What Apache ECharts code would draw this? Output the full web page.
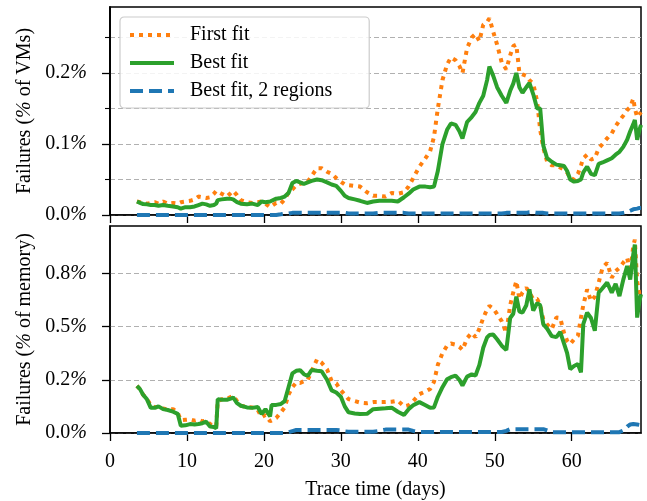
<!DOCTYPE html>
<html>
<head>
<meta charset="utf-8">
<script src="https://cdn.jsdelivr.net/npm/echarts@6/dist/echarts.min.js"></script>
<style>
  html, body { margin: 0; padding: 0; background: #fff; }
  #chart { width: 647px; height: 501px; }
</style>
</head>
<body>
<div id="chart"></div>
<script>
// trace time (days)
const days = [
  3.5, 3.9, 4.3, 4.8, 5.3, 5.8, 6.3, 6.9, 7.5, 8.2,
  8.8, 9.2, 9.8, 10.4, 11.0, 11.5, 12.0, 12.5, 13.0, 13.5,
  13.8, 14.0, 14.5, 15.2, 15.6, 16.0, 16.5, 17.0, 17.8, 18.5,
  19.2, 19.7, 20.2, 20.8, 21.0, 21.6, 22.2, 22.7, 23.2, 23.7,
  24.2, 24.7, 25.2, 25.7, 26.2, 26.9, 27.5, 28.2, 28.8, 29.4,
  30.0, 30.5, 31.0, 31.8, 32.5, 33.4, 34.2, 35.0, 35.8, 36.6,
  37.4, 38.2, 38.8, 39.4, 40.2, 41.0, 41.6, 42.1, 42.6, 43.2,
  43.8, 44.3, 44.9, 45.4, 45.8, 46.4, 47.0, 47.5, 48.0, 48.5,
  49.0, 49.3, 49.8, 50.3, 50.9, 51.5, 52.0, 52.4, 52.8, 53.2,
  53.6, 54.1, 54.5, 55.0, 55.5, 55.9, 56.3, 56.8, 57.4, 58.0,
  58.5, 59.0, 59.4, 59.8, 60.3, 60.8, 61.2, 61.5, 62.0, 62.5,
  63.0, 63.5, 64.0, 64.6, 65.2, 65.7, 66.2, 66.7, 67.2, 67.6,
  68.0, 68.2, 68.5, 68.8, 69.0
];

// failures, % of VMs
const firstFitVms = [
  .019, .018, .017, .016, .017, .018, .016, .019, .016, .017,
  .016, .018, .019, .020, .022, .026, .025, .024, .025, .030,
  .034, .033, .030, .026, .030, .034, .028, .021, .018, .017,
  .018, .019, .016, .011, .012, .017, .016, .022, .032, .036,
  .042, .044, .045, .047, .055, .066, .066, .061, .058, .052,
  .047, .043, .042, .041, .040, .032, .027, .027, .026, .031,
  .030, .032, .040, .052, .068, .080, .090, .110, .150, .190,
  .212, .222, .218, .210, .200, .235, .250, .255, .245, .268,
  .272, .277, .258, .240, .215, .205, .225, .238, .240, .200,
  .198, .196, .190, .185, .160, .120, .095, .075, .070, .070,
  .067, .064, .060, .052, .050, .058, .070, .080, .085, .078,
  .080, .094, .100, .108, .115, .125, .133, .140, .148, .152,
  .164, .150, .138, .142, .145
];
const bestFitVms = [
  .019, .017, .0155, .015, .014, .014, .013, .014, .013, .012,
  .011, .009, .011, .011, .012, .014, .016, .015, .013, .014,
  .016, .021, .022, .023, .023, .022, .018, .016, .015, .016,
  .014, .019, .018, .019, .020, .023, .024, .026, .031, .045,
  .048, .046, .044, .046, .048, .050, .049, .046, .043, .041,
  .034, .027, .024, .022, .020, .017, .019, .020, .020, .020,
  .019, .025, .030, .036, .040, .040, .039, .040, .062, .100,
  .120, .129, .127, .118, .108, .131, .138, .145, .158, .168,
  .190, .209, .196, .180, .168, .158, .175, .185, .200, .180,
  .172, .180, .186, .170, .150, .150, .098, .080, .075, .071,
  .070, .069, .062, .050, .047, .048, .050, .060, .068, .058,
  .056, .072, .074, .077, .080, .085, .089, .096, .106, .118,
  .128, .134, .106, .120, .127
];
const bestFit2Vms = [
  0, 0, 0, 0, 0, 0, 0, 0, 0, 0,
  0, 0, 0, 0, 0, 0, 0, 0, 0, 0,
  0, 0, 0, 0, 0, 0, 0, 0, 0, 0,
  0, 0, 0, 0, 0, 0, .001, .002, .002, .003,
  .003, .003, .003, .003, .003, .003, .003, .003, .003, .003,
  .003, .003, .002, .002, .002, .002, .002, .003, .003, .003,
  .003, .003, .002, .002, .002, .002, .002, .002, .002, .002,
  .002, .002, .002, .002, .002, .002, .002, .002, .002, .002,
  .002, .002, .002, .002, .002, .003, .003, .003, .003, .003,
  .003, .003, .004, .004, .003, .003, .003, .002, .002, .002,
  .002, .002, .002, .002, .002, .002, .002, .002, .002, .002,
  .002, .002, .002, .002, .002, .002, .002, .003, .004, .006,
  .008, .009, .009, .010, .010
];

// failures, % of memory
const firstFitMem = [
  .221, .206, .180, .160, .130, .122, .120, .115, .110, .112,
  .095, .060, .062, .064, .058, .062, .055, .058, .042, .035,
  .030, .150, .158, .160, .168, .174, .150, .128, .122, .120,
  .108, .075, .085, .055, .050, .070, .097, .120, .180, .215,
  .237, .235, .244, .250, .290, .346, .330, .299, .244, .233,
  .200, .180, .159, .150, .143, .140, .145, .145, .145, .147,
  .152, .125, .130, .150, .182, .195, .207, .240, .320, .375,
  .410, .420, .415, .405, .390, .445, .470, .450, .490, .540,
  .581, .597, .585, .558, .525, .470, .600, .660, .713, .630,
  .660, .682, .660, .628, .630, .600, .534, .510, .488, .542,
  .540, .470, .433, .417, .440, .456, .542, .600, .674, .620,
  .640, .706, .776, .799, .729, .760, .776, .800, .822, .752,
  .880, .908, .713, .650, .636
];
const bestFitMem = [
  .221, .206, .180, .158, .118, .118, .125, .112, .108, .100,
  .090, .034, .036, .042, .040, .042, .046, .053, .030, .028,
  .022, .159, .156, .156, .160, .167, .140, .128, .120, .118,
  .122, .089, .112, .078, .131, .132, .136, .150, .215, .280,
  .292, .295, .276, .268, .296, .292, .290, .250, .200, .190,
  .170, .125, .097, .092, .089, .090, .112, .114, .116, .119,
  .100, .085, .112, .130, .145, .130, .118, .120, .170, .215,
  .252, .262, .269, .250, .223, .265, .275, .270, .320, .400,
  .449, .460, .462, .440, .410, .390, .540, .560, .640, .570,
  .566, .600, .674, .575, .610, .600, .511, .490, .455, .450,
  .475, .420, .375, .300, .315, .324, .285, .511, .565, .540,
  .480, .659, .680, .706, .659, .700, .643, .720, .784, .721,
  .840, .885, .542, .620, .651
];
const bestFit2Mem = [
  0, 0, 0, 0, 0, 0, 0, 0, 0, 0,
  0, 0, 0, 0, 0, 0, 0, 0, 0, 0,
  0, 0, 0, 0, 0, 0, 0, 0, 0, 0,
  0, 0, 0, 0, 0, 0, 0, 0, .004, .009,
  .014, .014, .014, .014, .014, .014, .014, .014, .014, .014,
  .012, .008, .006, .006, .006, .006, .006, .010, .016, .016,
  .016, .016, .016, .010, .005, .005, .005, .005, .005, .005,
  .005, .005, .005, .005, .005, .005, .005, .005, .005, .005,
  .005, .005, .005, .005, .005, .010, .018, .018, .018, .018,
  .018, .018, .018, .018, .018, .018, .018, .012, .004, .004,
  .004, .004, .004, .004, .004, .004, .004, .004, .004, .004,
  .004, .004, .004, .004, .004, .004, .004, .012, .030, .040,
  .042, .043, .040, .038, .040
];

// ticks
const xTicks = [0, 10, 20, 30, 40, 50, 60];
const vmTicks = [0, 0.1, 0.2];
const vmMinorTicks = [0.05, 0.15, 0.25];
const vmTickLabels = ['0.0', '0.1', '0.2'];
const memTicks = [0, 0.25, 0.5, 0.75];
const memTickLabels = ['0.0', '0.2', '0.5', '0.8'];

const FONT = 'Liberation Serif';
const C_FIRST = '#ff7f0e', C_BEST = '#2ca02c', C_TWO = '#1f77b4';

const pts = ys => days.map((d, i) => [d, ys[i]]);

const txt = { fontFamily: FONT, fontSize: 20, color: '#000' };
const rich = { p: { fontFamily: FONT, fontSize: 20, fontStyle: 'italic', color: '#000' } };
const gridLine = { show: true, lineStyle: { color: '#b0b0b0', width: 1, type: [5, 3] } };
const blackLine = { show: true, lineStyle: { color: '#000', width: 1.5 } };

function xAx(gi, labels) {
  return {
    type: 'value', gridIndex: gi, min: 0, max: 69, interval: 10,
    axisLine: blackLine,
    axisTick: { show: true, length: 8, customValues: xTicks, lineStyle: { color: '#000', width: 1.3 } },
    axisLabel: labels ? Object.assign({ customValues: xTicks, margin: 19 }, txt) : { show: false },
    splitLine: { show: false },
    name: labels ? 'Trace time (days)' : '',
    nameLocation: 'middle', nameGap: 47,
    nameTextStyle: txt
  };
}

const lineDotted = { color: C_FIRST, width: 4, type: [4, 5], cap: 'butt' };
const lineSolid = { color: C_BEST, width: 4 };
const lineDashed = { color: C_TWO, width: 4, type: [13, 6], cap: 'butt' };

function ser(name, data, gi, yi, ls) {
  return {
    name: name, type: 'line', data: data, xAxisIndex: gi, yAxisIndex: yi,
    symbol: 'none', showSymbol: false, lineStyle: ls, itemStyle: { color: ls.color },
    animation: false, clip: true
  };
}

const option = {
  animation: false,
  backgroundColor: '#fff',
  grid: [
    { left: 110, top: 7, width: 531, height: 208, show: true, borderColor: '#000', borderWidth: 1.5, backgroundColor: 'transparent' },
    { left: 110, top: 226, width: 531, height: 208, show: true, borderColor: '#000', borderWidth: 1.5, backgroundColor: 'transparent' }
  ],
  xAxis: [xAx(0, false), xAx(1, true)],
  yAxis: [
    { // minor ticks + grid, top
      type: 'value', gridIndex: 0, position: 'left', min: 0, max: 0.293, interval: 0.05,
      axisLine: blackLine,
      axisTick: { show: true, length: 5, customValues: vmMinorTicks, lineStyle: { color: '#000', width: 1.1 } },
      axisLabel: { show: false },
      splitLine: gridLine
    },
    { // major ticks + labels, top
      type: 'value', gridIndex: 0, position: 'left', min: 0, max: 0.293, interval: 0.1,
      axisLine: blackLine,
      axisTick: { show: true, length: 8, customValues: vmTicks, lineStyle: { color: '#000', width: 1.3 } },
      axisLabel: Object.assign({
        customValues: vmTicks, margin: 23, rich: rich,
        formatter: v => vmTickLabels[Math.round(v / 0.1)] + '{p|%}'
      }, txt),
      splitLine: gridLine,
      name: 'Failures ({p|%} of VMs)', nameLocation: 'middle', nameGap: 74,
      nameTextStyle: Object.assign({ rich: rich }, txt)
    },
    { // bottom
      type: 'value', gridIndex: 1, position: 'left', min: 0, max: 0.972, interval: 0.25,
      axisLine: blackLine,
      axisTick: { show: true, length: 8, customValues: memTicks, lineStyle: { color: '#000', width: 1.3 } },
      axisLabel: Object.assign({
        customValues: memTicks, margin: 23, rich: rich,
        formatter: v => memTickLabels[Math.round(v / 0.25)] + '{p|%}'
      }, txt),
      splitLine: gridLine,
      name: 'Failures ({p|%} of memory)', nameLocation: 'middle', nameGap: 74,
      nameTextStyle: Object.assign({ rich: rich }, txt)
    }
  ],
  legend: {
    orient: 'vertical', left: 120, top: 17,
    data: ['First fit', 'Best fit', 'Best fit, 2 regions'],
    itemWidth: 44, itemHeight: 14, itemGap: 8,
    padding: [8, 37, 7, 8],
    backgroundColor: 'rgba(255,255,255,0.85)',
    borderColor: '#cccccc', borderWidth: 1.2, borderRadius: 4,
    itemStyle: { opacity: 0 },
    lineStyle: { width: 4 },
    textStyle: Object.assign({ padding: [0, 0, 0, 11] }, txt),
    selectedMode: false
  },
  series: [
    ser('First fit', pts(firstFitVms), 0, 1, lineDotted),
    ser('Best fit', pts(bestFitVms), 0, 1, lineSolid),
    ser('Best fit, 2 regions', pts(bestFit2Vms), 0, 1, lineDashed),
    ser('First fit', pts(firstFitMem), 1, 2, lineDotted),
    ser('Best fit', pts(bestFitMem), 1, 2, lineSolid),
    ser('Best fit, 2 regions', pts(bestFit2Mem), 1, 2, lineDashed)
  ]
};

const chart = echarts.init(document.getElementById('chart'), null, { renderer: 'canvas' });
chart.setOption(option);
</script>
</body>
</html>
